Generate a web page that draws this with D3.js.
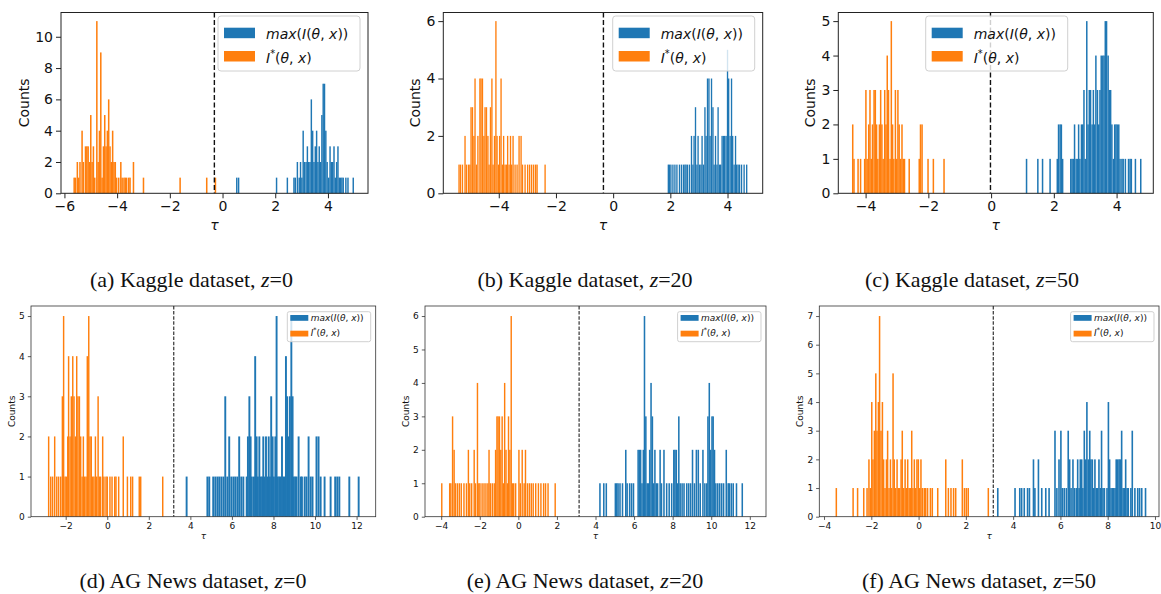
<!DOCTYPE html>
<html>
<head>
<meta charset="utf-8">
<script src="https://cdn.jsdelivr.net/npm/d3@7"></script>
<style>
  body { margin: 0; background: #fff; }
  svg { display: block; }
</style>
</head>
<body>
<svg id="fig" width="1161" height="594"></svg>
<script>
// ---------------------------------------------------------------------------
// Histogram bars, one [tau, count] pair per non-empty bin.
// "max" = max(I(θ,x)) (blue), "star" = I*(θ,x) (orange).
// ---------------------------------------------------------------------------
const kaggleZ0Star = [[-5.63,1],[-5.58,1],[-5.51,2],[-5.46,1],[-5.41,2],[-5.33,4],[-5.28,2],[-5.20,3],[-5.15,3],[-5.10,3],[-5.05,2],[-5.00,5],[-4.95,2],[-4.90,3],[-4.85,1],[-4.77,11],[-4.72,2],[-4.67,4],[-4.62,9],[-4.57,1],[-4.52,3],[-4.47,5],[-4.42,3],[-4.37,4],[-4.32,6],[-4.27,3],[-4.22,2],[-4.17,4],[-4.12,2],[-4.07,2],[-4.02,1],[-3.94,1],[-3.86,2],[-3.81,1],[-3.74,1],[-3.69,1],[-3.64,1],[-3.56,1],[-3.51,1],[-3.38,2],[-3.00,1],[-1.61,1],[-0.60,1],[-0.27,1]];
const kaggleZ0Max = [[0.54,1],[0.61,1],[2.05,1],[2.46,1],[2.71,1],[2.76,1],[2.84,2],[2.91,1],[2.96,2],[3.01,1],[3.06,4],[3.11,2],[3.17,2],[3.22,3],[3.27,2],[3.32,2],[3.37,6],[3.42,4],[3.47,2],[3.52,3],[3.57,4],[3.62,2],[3.67,3],[3.72,2],[3.77,5],[3.82,7],[3.87,7],[3.92,4],[3.97,2],[4.03,1],[4.08,3],[4.13,2],[4.18,2],[4.23,3],[4.28,1],[4.33,2],[4.38,3],[4.43,1],[4.48,1],[4.53,1],[4.58,1],[4.68,1],[4.76,1],[4.96,1]];

const kaggleZ20Star = [[-5.39,1],[-5.34,1],[-5.27,1],[-5.18,2],[-5.13,1],[-5.06,1],[-5.01,1],[-4.97,3],[-4.92,3],[-4.87,2],[-4.83,4],[-4.78,1],[-4.73,2],[-4.66,4],[-4.62,4],[-4.57,4],[-4.52,2],[-4.48,3],[-4.43,3],[-4.38,2],[-4.34,1],[-4.29,3],[-4.24,4],[-4.20,1],[-4.15,2],[-4.10,6],[-4.06,2],[-4.01,1],[-3.97,2],[-3.92,4],[-3.87,1],[-3.83,2],[-3.78,1],[-3.73,1],[-3.69,2],[-3.64,1],[-3.59,2],[-3.55,1],[-3.50,2],[-3.43,1],[-3.36,1],[-3.29,2],[-3.22,2],[-3.17,1],[-3.08,1],[-2.99,1],[-2.92,1],[-2.85,1],[-2.78,1],[-2.71,1],[-2.66,1],[-2.38,1]];
const kaggleZ20Max = [[1.93,1],[1.97,1],[2.02,1],[2.09,1],[2.16,1],[2.23,1],[2.32,1],[2.39,1],[2.46,1],[2.51,1],[2.55,1],[2.60,1],[2.67,1],[2.74,2],[2.79,1],[2.83,2],[2.88,3],[2.93,1],[2.97,2],[3.02,1],[3.07,1],[3.11,2],[3.16,1],[3.21,3],[3.25,2],[3.30,4],[3.35,4],[3.39,2],[3.44,4],[3.49,3],[3.53,1],[3.58,2],[3.63,1],[3.67,3],[3.72,1],[3.76,1],[3.81,2],[3.86,2],[3.90,2],[3.95,2],[4.00,5],[4.04,4],[4.09,2],[4.14,4],[4.18,2],[4.23,1],[4.28,2],[4.32,1],[4.37,1],[4.42,1],[4.49,1],[4.58,1],[4.67,1]];

const kaggleZ50Star = [[-4.41,2],[-4.37,1],[-4.24,1],[-4.16,1],[-4.03,1],[-3.99,3],[-3.95,1],[-3.90,2],[-3.86,3],[-3.82,1],[-3.78,2],[-3.73,3],[-3.69,3],[-3.65,2],[-3.61,1],[-3.56,2],[-3.52,3],[-3.48,2],[-3.44,1],[-3.39,3],[-3.35,2],[-3.31,4],[-3.27,3],[-3.22,1],[-3.18,5],[-3.14,2],[-3.10,1],[-3.05,3],[-3.01,1],[-2.97,3],[-2.93,2],[-2.88,1],[-2.84,2],[-2.80,1],[-2.76,1],[-2.61,1],[-2.29,1],[-2.25,2],[-2.20,2],[-2.01,1],[-1.84,1],[-1.50,1]];
const kaggleZ50Max = [[1.13,1],[1.49,1],[1.64,1],[1.88,1],[2.11,1],[2.15,2],[2.20,2],[2.24,2],[2.28,1],[2.54,1],[2.58,1],[2.62,1],[2.66,2],[2.71,1],[2.75,1],[2.79,2],[2.83,1],[2.88,2],[2.92,2],[2.96,3],[3.00,1],[3.05,5],[3.09,2],[3.13,3],[3.17,3],[3.22,2],[3.26,3],[3.30,2],[3.34,4],[3.39,3],[3.43,2],[3.47,3],[3.51,4],[3.56,4],[3.60,4],[3.64,5],[3.68,5],[3.73,4],[3.77,3],[3.81,3],[3.85,2],[3.90,1],[3.94,2],[3.98,2],[4.02,2],[4.07,2],[4.11,1],[4.17,1],[4.21,1],[4.28,1],[4.38,1],[4.43,1],[4.47,1],[4.60,1],[4.77,1]];

const agNewsZ0Star = [[-2.82,2],[-2.72,1],[-2.63,1],[-2.53,2],[-2.43,1],[-2.34,1],[-2.24,1],[-2.16,3],[-2.10,5],[-2.03,1],[-1.97,1],[-1.90,2],[-1.86,4],[-1.79,2],[-1.73,3],[-1.66,4],[-1.60,3],[-1.53,2],[-1.47,4],[-1.41,3],[-1.34,3],[-1.28,2],[-1.21,1],[-1.15,2],[-1.09,1],[-1.02,1],[-0.96,4],[-0.89,5],[-0.83,2],[-0.77,2],[-0.70,1],[-0.64,1],[-0.57,2],[-0.51,1],[-0.44,3],[-0.38,1],[-0.32,1],[-0.22,2],[-0.16,1],[-0.06,1],[0.00,1],[0.13,1],[0.23,1],[0.36,1],[0.42,1],[0.55,1],[0.77,2],[0.97,1],[1.13,1],[1.22,1],[1.54,1],[1.61,1],[2.67,1]];
const agNewsZ0Max = [[3.82,1],[4.82,1],[4.91,1],[5.10,1],[5.20,1],[5.30,1],[5.39,1],[5.49,1],[5.59,1],[5.68,3],[5.78,1],[5.87,2],[5.97,1],[6.07,1],[6.16,1],[6.26,1],[6.35,2],[6.45,1],[6.55,1],[6.71,1],[6.77,2],[6.84,3],[6.90,2],[6.96,1],[7.06,1],[7.12,4],[7.19,2],[7.25,1],[7.32,2],[7.38,1],[7.45,1],[7.51,2],[7.57,1],[7.64,2],[7.70,1],[7.77,2],[7.83,1],[7.89,3],[7.96,2],[8.02,1],[8.09,2],[8.15,5],[8.21,1],[8.28,1],[8.34,1],[8.41,2],[8.47,1],[8.54,1],[8.60,4],[8.66,3],[8.73,2],[8.79,3],[8.86,5],[8.92,3],[8.98,1],[9.05,1],[9.11,1],[9.21,2],[9.31,1],[9.37,1],[9.50,1],[9.59,1],[9.69,2],[9.79,1],[9.88,1],[10.07,2],[10.17,2],[10.27,1],[10.46,1],[10.75,1],[10.97,1],[11.07,1],[11.17,1],[11.65,1],[12.10,1]];

const agNewsZ20Star = [[-3.97,1],[-3.56,1],[-3.50,1],[-3.41,3],[-3.33,2],[-3.26,1],[-3.16,1],[-3.06,1],[-2.96,1],[-2.82,1],[-2.69,1],[-2.59,2],[-2.52,1],[-2.42,1],[-2.29,2],[-2.22,1],[-2.12,4],[-2.05,1],[-1.99,1],[-1.88,1],[-1.78,1],[-1.68,1],[-1.58,1],[-1.52,2],[-1.45,1],[-1.35,1],[-1.25,1],[-1.18,2],[-1.11,3],[-1.05,3],[-0.98,3],[-0.91,2],[-0.84,3],[-0.78,1],[-0.71,4],[-0.64,2],[-0.57,1],[-0.51,3],[-0.44,2],[-0.37,6],[-0.31,1],[-0.24,1],[-0.14,1],[0.03,2],[0.10,1],[0.20,2],[0.30,1],[0.37,2],[0.47,1],[0.57,1],[0.67,1],[0.77,1],[0.90,1],[1.04,1],[1.17,1],[1.31,1],[1.41,1],[1.54,1],[1.91,1]];
const agNewsZ20Max = [[4.23,1],[4.43,1],[4.56,1],[5.03,1],[5.10,1],[5.17,1],[5.27,1],[5.40,1],[5.57,2],[5.64,1],[5.77,1],[5.87,1],[5.97,1],[6.21,2],[6.28,2],[6.34,2],[6.41,1],[6.48,2],[6.54,6],[6.61,3],[6.68,1],[6.75,1],[6.81,2],[6.88,4],[6.95,3],[7.01,1],[7.08,2],[7.15,1],[7.22,1],[7.35,2],[7.42,1],[7.55,2],[7.69,1],[7.82,1],[7.95,1],[8.06,2],[8.12,2],[8.19,2],[8.26,1],[8.32,3],[8.39,1],[8.49,1],[8.59,1],[8.73,1],[8.83,1],[8.93,1],[9.03,2],[9.13,1],[9.23,2],[9.33,2],[9.43,1],[9.57,2],[9.67,1],[9.77,1],[9.83,3],[9.90,4],[9.97,2],[10.04,3],[10.10,3],[10.17,2],[10.24,1],[10.34,1],[10.44,1],[10.54,1],[10.64,1],[10.78,2],[10.88,1],[10.94,1],[11.04,1],[11.14,1],[11.31,1],[11.61,1]];

const agNewsZ50Star = [[-3.48,1],[-2.77,1],[-2.58,1],[-2.32,1],[-2.18,1],[-2.10,2],[-2.04,1],[-1.98,4],[-1.93,2],[-1.87,3],[-1.81,5],[-1.76,3],[-1.70,4],[-1.65,7],[-1.59,3],[-1.53,4],[-1.48,2],[-1.42,1],[-1.36,2],[-1.31,3],[-1.25,1],[-1.19,2],[-1.14,1],[-1.08,5],[-1.03,2],[-0.97,1],[-0.91,2],[-0.86,1],[-0.80,1],[-0.74,2],[-0.69,3],[-0.63,1],[-0.57,2],[-0.52,1],[-0.46,2],[-0.40,1],[-0.35,1],[-0.29,3],[-0.24,1],[-0.18,2],[-0.12,1],[-0.07,2],[-0.01,2],[0.05,1],[0.10,2],[0.16,1],[0.24,1],[0.30,1],[0.38,1],[0.50,1],[0.58,1],[0.81,1],[1.15,2],[1.26,1],[1.37,1],[1.48,1],[1.57,1],[1.85,2],[1.94,1],[2.02,1],[2.10,1],[2.95,1]];
const agNewsZ50Max = [[3.35,1],[4.08,1],[4.28,1],[4.36,1],[4.47,1],[4.61,1],[4.69,1],[4.86,2],[4.92,1],[5.07,2],[5.21,1],[5.38,1],[5.52,1],[5.77,3],[5.85,1],[5.94,2],[6.02,3],[6.08,1],[6.16,1],[6.25,1],[6.33,3],[6.39,2],[6.45,1],[6.53,2],[6.59,1],[6.67,1],[6.73,2],[6.79,1],[6.84,2],[6.90,2],[6.95,1],[7.01,3],[7.07,2],[7.12,4],[7.18,2],[7.24,3],[7.29,2],[7.35,2],[7.41,1],[7.46,2],[7.52,1],[7.57,1],[7.63,2],[7.69,1],[7.74,3],[7.80,1],[7.86,1],[7.97,1],[8.03,4],[8.08,2],[8.14,1],[8.20,1],[8.25,1],[8.31,1],[8.36,2],[8.42,2],[8.48,2],[8.53,2],[8.59,3],[8.65,1],[8.70,1],[8.76,2],[8.82,1],[8.87,1],[8.98,1],[9.04,3],[9.15,1],[9.27,1],[9.35,1],[9.44,1],[9.60,1]];

// Decision threshold τ drawn as the dashed vertical line, per panel (a)–(f)
const thresholdTau = [-0.31, -0.34, -0.02, 3.20, 3.15, 3.16];

// Tick labels
const xTicksKaggleZ0 = [-6, -4, -2, 0, 2, 4];
const xTicksKaggle = [-4, -2, 0, 2, 4];
const xTicksAgZ0 = [-2, 0, 2, 4, 6, 8, 10, 12];
const xTicksAgZ20 = [-4, -2, 0, 2, 4, 6, 8, 10, 12];
const xTicksAgZ50 = [-4, -2, 0, 2, 4, 6, 8, 10];
const yTicksA = [0, 2, 4, 6, 8, 10];
const yTicksB = [0, 2, 4, 6];
const yTicksC = [0, 1, 2, 3, 4, 5];
const yTicksD = [0, 1, 2, 3, 4, 5];
const yTicksE = [0, 1, 2, 3, 4, 5, 6];
const yTicksF = [0, 1, 2, 3, 4, 5, 6, 7];

// Captions: [prefix, z value]
const captions = [
  ["(a) Kaggle dataset, ", "0"],
  ["(b) Kaggle dataset, ", "20"],
  ["(c) Kaggle dataset, ", "50"],
  ["(d) AG News dataset, ", "0"],
  ["(e) AG News dataset, ", "20"],
  ["(f) AG News dataset, ", "50"]
];

// Legend labels as math runs: [text, italic, superscript]
const maxLabel = [["max",1],["(",0],["I",1],["(",0],["θ",1],[",",0],[" ",0],["x",1],[")",0],[")",0]];
const starLabel = [["I",1],["*",0,1],["(",0],["θ",1],[",",0],[" ",0],["x",1],[")",0]];

// ---------------------------------------------------------------------------
// Layout and styling
// ---------------------------------------------------------------------------
const BLUE = "#1f77b4", ORANGE = "#ff7f0e";
const FONT = "'DejaVu Sans', sans-serif";

const ROW = {
  top: {
    font: 14, tick: 5, pad: 3, frame: "#222", frameW: 1,
    dashColor: "#111", dashW: 1.4, dash: "5,2.5",
    xlabDy: 36.7, ylabGap: 6, capY: 287,
    legend: { w: 142, h: 55, px: 6, py: [11.7, 35], pw: 31, ph: 10.5, tx: 48, ty: [22.5, 46.5], font: 14, top: 3.5, rx: 3 }
  },
  bottom: {
    font: 9, tick: 3.2, pad: 3, frame: "#333", frameW: 0.8,
    dashColor: "#333", dashW: 1.2, dash: "3.5,1.6",
    xlabDy: 22.5, ylabGap: 4, capY: 588,
    legend: { w: 83.4, h: 30, px: 3, py: [3.3, 19], pw: 18, ph: 5.8, tx: 23.4, ty: [9.5, 24.5], font: 9, top: 5.7, rx: 2 }
  }
};

const panels = [
  { row: "top", box: { l: 61, t: 12.5, r: 368, b: 193.3 }, xDomain: [-6.13, 5.52], yMax: 11.55,
    maxBars: kaggleZ0Max, starBars: kaggleZ0Star, binW: [0.055, 0.058],
    xTicks: xTicksKaggleZ0, yTicks: yTicksA, legendRight: 8, capX: 191.5 },
  { row: "top", box: { l: 443.3, t: 12.5, r: 762.7, b: 193.3 }, xDomain: [-5.94, 5.23], yMax: 6.3,
    maxBars: kaggleZ20Max, starBars: kaggleZ20Star, binW: [0.047, 0.047],
    xTicks: xTicksKaggle, yTicks: yTicksB, legendRight: 8, capX: 585 },
  { row: "top", box: { l: 838.3, t: 12.5, r: 1153.3, b: 193.3 }, xDomain: [-4.87, 5.17], yMax: 5.25,
    maxBars: kaggleZ50Max, starBars: kaggleZ50Star, binW: [0.048, 0.048],
    xTicks: xTicksKaggle, yTicks: yTicksC, legendLeft: 87.4, capX: 972 },
  { row: "bottom", box: { l: 31, t: 306, r: 375.7, b: 516.7 }, xDomain: [-3.67, 12.92], yMax: 5.25,
    maxBars: agNewsZ0Max, starBars: agNewsZ0Star, binW: [0.092, 0.07],
    xTicks: xTicksAgZ0, yTicks: yTicksD, legendRight: 5, capX: 193 },
  { row: "bottom", box: { l: 425, t: 306, r: 766, b: 516.7 }, xDomain: [-4.84, 12.84], yMax: 6.3,
    maxBars: agNewsZ20Max, starBars: agNewsZ20Star, binW: [0.08, 0.074],
    xTicks: xTicksAgZ20, yTicks: yTicksE, legendRight: 5, capX: 585 },
  { row: "bottom", box: { l: 819.3, t: 306, r: 1159, b: 516.7 }, xDomain: [-4.2, 10.17], yMax: 7.35,
    maxBars: agNewsZ50Max, starBars: agNewsZ50Star, binW: [0.068, 0.064],
    xTicks: xTicksAgZ50, yTicks: yTicksF, legendRight: 5, capX: 979 }
];

const svg = d3.select("#fig");

function mathText(sel, runs, size) {
  runs.forEach(([t, it, sup], i) => {
    const prevSup = i > 0 && runs[i - 1][2];
    const ts = sel.append("tspan").text(t)
      .attr("font-style", it ? "italic" : "normal")
      .attr("font-size", sup ? size * 0.7 : size);
    if (sup) ts.attr("dy", -size * 0.42);
    else if (prevSup) ts.attr("dy", size * 0.42);
  });
}

panels.forEach((p, i) => {
  const R = ROW[p.row];
  const x = d3.scaleLinear().domain(p.xDomain).range([p.box.l, p.box.r]);
  const y = d3.scaleLinear().domain([0, p.yMax]).range([p.box.b, p.box.t]);
  const g = svg.append("g");

  // histogram bars
  [{ bars: p.maxBars, w: p.binW[0], color: BLUE },
   { bars: p.starBars, w: p.binW[1], color: ORANGE }].forEach(s => {
    g.append("g").selectAll("rect").data(s.bars).join("rect")
      .attr("x", d => x(d[0] - s.w / 2))
      .attr("width", d => x(d[0] + s.w / 2) - x(d[0] - s.w / 2))
      .attr("y", d => y(d[1]))
      .attr("height", d => y(0) - y(d[1]))
      .attr("fill", s.color);
  });

  // threshold line
  g.append("line")
    .attr("x1", x(thresholdTau[i])).attr("x2", x(thresholdTau[i]))
    .attr("y1", p.box.t).attr("y2", p.box.b)
    .attr("stroke", R.dashColor).attr("stroke-width", R.dashW)
    .attr("stroke-dasharray", R.dash);

  // axes frame
  g.append("rect")
    .attr("x", p.box.l).attr("y", p.box.t)
    .attr("width", p.box.r - p.box.l).attr("height", p.box.b - p.box.t)
    .attr("fill", "none").attr("stroke", R.frame).attr("stroke-width", R.frameW);

  const fmt = d3.format("d");
  const styleAxis = a => {
    a.select(".domain").remove();
    a.selectAll(".tick line").attr("stroke", R.frame).attr("stroke-width", R.frameW);
    a.selectAll(".tick text").attr("fill", "#111");
    a.attr("font-size", R.font).attr("font-family", FONT);
  };

  const xa = g.append("g").attr("transform", `translate(0,${p.box.b})`)
    .call(d3.axisBottom(x).tickValues(p.xTicks).tickFormat(fmt).tickSize(R.tick).tickPadding(R.pad));
  styleAxis(xa);

  const ya = g.append("g").attr("transform", `translate(${p.box.l},0)`)
    .call(d3.axisLeft(y).tickValues(p.yTicks).tickFormat(fmt).tickSize(R.tick).tickPadding(R.pad));
  styleAxis(ya);

  // axis labels
  g.append("text")
    .attr("x", (p.box.l + p.box.r) / 2).attr("y", p.box.b + R.xlabDy)
    .attr("text-anchor", "middle").attr("font-family", FONT)
    .attr("font-size", R.font).attr("font-style", "italic").attr("fill", "#111")
    .text("τ");

  // y label sits just left of the tick labels (bbox is in the axis group's local frame)
  const bb = ya.node().getBBox();
  const ly = (p.box.t + p.box.b) / 2;
  const lx = p.box.l + bb.x - R.ylabGap;
  g.append("text")
    .attr("transform", `translate(${lx},${ly}) rotate(-90)`)
    .attr("text-anchor", "middle").attr("font-family", FONT)
    .attr("font-size", R.font).attr("fill", "#111")
    .text("Counts");

  // legend
  const L = R.legend;
  const lxBox = p.legendLeft !== undefined ? p.box.l + p.legendLeft : p.box.r - p.legendRight - L.w;
  const lyBox = p.box.t + L.top;
  const lg = g.append("g").attr("transform", `translate(${lxBox},${lyBox})`);
  lg.append("rect").attr("width", L.w).attr("height", L.h).attr("rx", L.rx)
    .attr("fill", "#fff").attr("fill-opacity", 0.8)
    .attr("stroke", "#d0d0d0").attr("stroke-width", 1);
  [[BLUE, maxLabel], [ORANGE, starLabel]].forEach(([c, runs], k) => {
    lg.append("rect").attr("x", L.px).attr("y", L.py[k]).attr("width", L.pw).attr("height", L.ph).attr("fill", c);
    const t = lg.append("text").attr("x", L.tx).attr("y", L.ty[k])
      .attr("font-family", FONT).attr("fill", "#111");
    mathText(t, runs, L.font);
  });

  // caption
  const cap = svg.append("text")
    .attr("x", p.capX).attr("y", R.capY)
    .attr("text-anchor", "middle")
    .attr("font-family", "'Liberation Serif', 'Times New Roman', serif")
    .attr("font-size", 22).attr("fill", "#111");
  cap.append("tspan").text(captions[i][0]);
  cap.append("tspan").attr("font-style", "italic").text("z");
  cap.append("tspan").text("=" + captions[i][1]);
});
</script>
</body>
</html>
